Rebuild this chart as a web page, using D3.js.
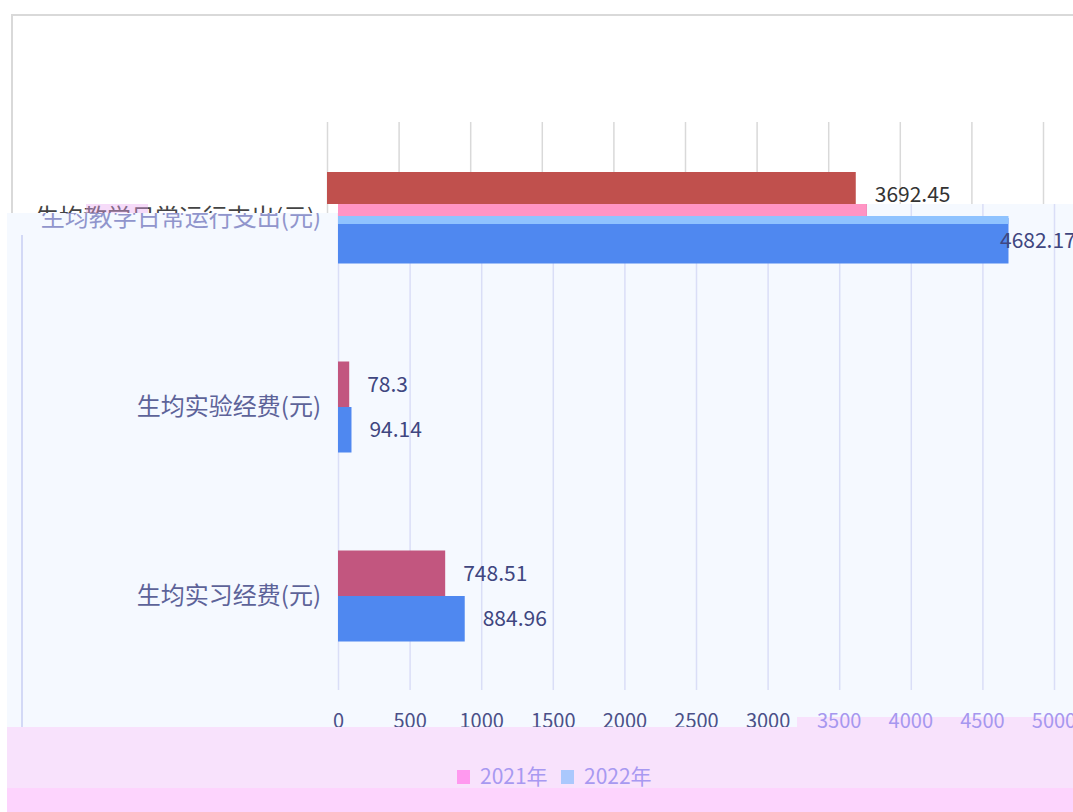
<!DOCTYPE html>
<html>
<head>
<meta charset="utf-8">
<script src="https://cdn.jsdelivr.net/npm/d3@7"></script>
<style>
  html, body { margin: 0; padding: 0; background: #fff; }
  svg { display: block; font-family: "Noto Sans CJK SC", "Noto Sans", sans-serif; }
</style>
</head>
<body>
<div id="chart"></div>
<script>
const categories = ['生均教学日常运行支出(元)', '生均实验经费(元)', '生均实习经费(元)'];
const seriesNames = ['2021年', '2022年'];
const values2021 = [3692.45, 78.3, 748.51];
const values2022 = [4682.17, 94.14, 884.96];
const tickValues = [0, 500, 1000, 1500, 2000, 2500, 3000, 3500, 4000, 4500, 5000];

function drawChart() {
  const width = 1073, height = 812;
  const svg = d3.select('#chart').append('svg')
    .attr('width', width)
    .attr('height', height);

  const x = d3.scaleLinear().domain([0, 5000]).range([338, 1054]);
  const xGhost = d3.scaleLinear().domain([0, 5000]).range([327, 1043]);
  const y = d3.scalePoint().domain(categories).range([218, 596]);
  const sub = d3.scaleBand().domain(seriesNames).range([-45.5, 45.5]);

  const rows = categories.map((c, i) => ({ cat: c, v: [values2021[i], values2022[i]] }));

  // main panel
  svg.append('rect').attr('x', 7).attr('y', 204).attr('width', width - 7).attr('height', 523)
    .attr('fill', '#f5f9ff');
  svg.append('line').attr('x1', 22).attr('x2', 22).attr('y1', 235).attr('y2', 727)
    .attr('stroke', '#d3d9f6').attr('stroke-width', 2);

  const axis = svg.append('g')
    .attr('transform', 'translate(0,690)')
    .call(d3.axisBottom(x).tickValues(tickValues).tickSize(-486).tickPadding(24).tickFormat(d3.format('d')));
  axis.select('.domain').remove();
  axis.selectAll('.tick line').attr('stroke', '#dadef7').attr('stroke-width', 1.5);
  axis.selectAll('.tick text')
    .attr('font-size', 20)
    .attr('font-family', '"Noto Sans CJK SC", sans-serif')
    .attr('fill', '#4b5088')
    .filter(d => d >= 3500).remove();

  // bars
  const colors = ['#c2567f', '#4f88f0'];
  const groups = svg.append('g').selectAll('g').data(rows).join('g');
  groups.selectAll('rect').data(d => d.v.map((v, j) => ({ cat: d.cat, v, s: seriesNames[j], j })))
    .join('rect')
    .attr('x', x(0))
    .attr('y', d => y(d.cat) + sub(d.s))
    .attr('width', d => x(d.v) - x(0))
    .attr('height', sub.bandwidth())
    .attr('fill', d => colors[d.j]);

  // value labels
  groups.selectAll('text').data(d => d.v.map((v, j) => ({ cat: d.cat, v, s: seriesNames[j], j })))
    .join('text')
    .attr('x', d => Math.min(x(d.v) + 18, width - 73))
    .attr('y', d => y(d.cat) + sub(d.s) + sub.bandwidth() / 2)
    .attr('dy', '0.35em')
    .attr('font-size', 21)
    .attr('fill', '#3f4680')
    .text(d => d.v);

  // glitch strips over the first group
  svg.append('rect').attr('x', x(0)).attr('y', 204).attr('width', x(values2021[0]) - x(0)).attr('height', 12)
    .attr('fill', '#ff94c4');
  svg.append('rect').attr('x', x(0)).attr('y', 216).attr('width', x(values2022[0]) - x(0)).attr('height', 8)
    .attr('fill', '#8fc3ff');

  // category labels
  svg.append('g').selectAll('text').data(categories).join('text')
    .attr('x', 321)
    .attr('y', d => y(d))
    .attr('dy', '0.35em')
    .attr('text-anchor', 'end')
    .attr('font-size', 24)
    .attr('fill', (d, i) => i === 0 ? '#9095cc' : '#5d6399')
    .text(d => d);

  // ghost chart layer (top)
  const defs = svg.append('defs');
  const clip = defs.append('clipPath').attr('id', 'ghostClip');
  clip.append('rect').attr('x', 0).attr('y', 0).attr('width', width).attr('height', 204);
  clip.append('rect').attr('x', 0).attr('y', 0).attr('width', 338).attr('height', 213);

  const ghost = svg.append('g').attr('clip-path', 'url(#ghostClip)');
  ghost.append('rect').attr('x', 0).attr('y', 0).attr('width', width).attr('height', 214).attr('fill', '#fff');
  ghost.append('path').attr('d', `M12,220V15H${width}`).attr('fill', 'none')
    .attr('stroke', '#d9d9d9').attr('stroke-width', 2);

  const gAxis = ghost.append('g')
    .attr('transform', 'translate(0,122)')
    .call(d3.axisBottom(xGhost).tickValues(tickValues).tickSize(100).tickFormat(''));
  gAxis.select('.domain').remove();
  gAxis.selectAll('.tick line').attr('stroke', '#d9d9d9').attr('stroke-width', 1.5);

  ghost.append('rect')
    .attr('x', xGhost(0))
    .attr('y', 172)
    .attr('width', xGhost(values2021[0]) - xGhost(0))
    .attr('height', 32)
    .attr('fill', '#c0504d');
  ghost.append('text')
    .attr('x', xGhost(values2021[0]) + 19)
    .attr('y', 195)
    .attr('dy', '0.35em')
    .attr('font-size', 21)
    .attr('fill', '#333')
    .text(values2021[0]);
  ghost.append('text')
    .attr('x', 35)
    .attr('y', 218)
    .attr('dy', '0.35em')
    .attr('font-size', 24)
    .attr('fill', '#444')
    .text(categories[0]);
  ghost.append('rect').attr('x', 86).attr('y', 204).attr('width', 62).attr('height', 9)
    .attr('fill', '#e9a4ef').attr('opacity', 0.4);

  // bottom legend band
  svg.append('path')
    .attr('d', `M7,727H797V717H${width}V788H7Z`)
    .attr('fill', '#f8e2fc');
  svg.append('rect').attr('x', 7).attr('y', 788).attr('width', width - 7).attr('height', 24)
    .attr('fill', '#fdd4fd');
  // light tick labels drawn over the band
  svg.append('g').selectAll('text').data(tickValues.filter(t => t >= 3500)).join('text')
    .attr('x', d => x(d))
    .attr('y', 721)
    .attr('dy', '0.35em')
    .attr('text-anchor', 'middle')
    .attr('font-size', 20)
    .attr('fill', '#a697ef')
    .text(d => d);

  const legendColors = ['#ff99ef', '#aac8fd'];
  const legend = svg.append('g').selectAll('g').data(seriesNames).join('g')
    .attr('transform', (d, i) => `translate(${457 + i * 104},777)`);
  legend.append('rect').attr('x', 0).attr('y', -7).attr('width', 13).attr('height', 14)
    .attr('fill', (d, i) => legendColors[i]);
  legend.append('text').attr('x', 23).attr('y', 0).attr('dy', '0.35em')
    .attr('font-size', 21).attr('fill', '#a899f1')
    .text(d => d);
}

drawChart();
</script>
</body>
</html>
